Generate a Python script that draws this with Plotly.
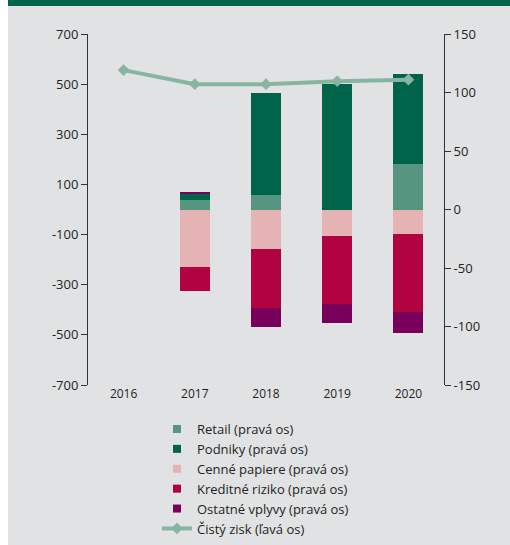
import plotly.graph_objects as go

# Categories (years)
years = ["2016", "2017", "2018", "2019", "2020"]

# Stacked components, right axis
retail = [None, 8, 12.5, 0, 39]
podniky = [None, 5.5, 87.5, 107, 76.5]
cenne_papiere = [None, -49, -33.5, -22.5, -21]
kreditne_riziko = [None, -20.5, -50.5, -58, -66.5]
ostatne_vplyvy = [None, 1.5, -16.5, -16.5, -18]

# Net profit, left axis
cisty_zisk = [556, 500, 500, 512, 518]

# Axis ticks (labels use a plain hyphen for negatives)
left_ticks = [-700, -500, -300, -100, 100, 300, 500, 700]
left_labels = ["-700", "-500", "-300", "-100", "100", "300", "500", "700"]
right_ticks = [-150, -100, -50, 0, 50, 100, 150]
right_labels = ["-150", "-100", "-50", "0", "50", "100", "150"]

FONT = "Open Sans"
TXT = "#231f20"
BG = "#e1e2e4"

series = [
    ("Retail (pravá os)", retail, "#569580"),
    ("Podniky (pravá os)", podniky, "#00644a"),
    ("Cenné papiere (pravá os)", cenne_papiere, "#e5b3b3"),
    ("Kreditné riziko (pravá os)", kreditne_riziko, "#b00340"),
    ("Ostatné vplyvy (pravá os)", ostatne_vplyvy, "#78005a"),
]

fig = go.Figure()

for name, vals, col in series:
    fig.add_trace(go.Bar(
        x=years, y=vals, name=name, marker=dict(color=col, line=dict(width=0)),
        width=0.42, yaxis="y", showlegend=False, hoverinfo="x+y+name",
    ))

# legend swatches (small squares)
for i, (name, vals, col) in enumerate(series):
    fig.add_trace(go.Scatter(
        x=[None], y=[None], mode="markers", name=name, yaxis="y",
        legendgroup=f"g{i}",
        marker=dict(symbol="square", size=8, color=col),
    ))

fig.add_trace(go.Scatter(
    x=years, y=cisty_zisk, name="Čistý zisk (ľavá os)", yaxis="y2",
    mode="lines+markers", legendgroup="zisk",
    line=dict(color="#87b5a2", width=4),
    marker=dict(symbol="diamond", size=9, color="#87b5a2"),
))

fig.update_layout(
    width=510, height=545,
    margin=dict(l=88, r=66, t=34, b=160, pad=0, autoexpand=False),
    paper_bgcolor=BG, plot_bgcolor=BG,
    barmode="relative", bargap=0,
    font=dict(family=FONT, color=TXT, size=13),
    xaxis=dict(
        type="category", range=[-0.5, 4.5], showline=False, ticks="",
        showgrid=False, zeroline=False, tickfont=dict(size=12, color=TXT),
        anchor="y",
    ),
    xaxis2=dict(
        overlaying="x", anchor="free", position=0.5, side="bottom",
        range=[-0.5, 4.5], tickvals=[0.5, 1.5, 2.5, 3.5],
        showticklabels=False, ticks="outside", ticklen=6, tickwidth=1.5,
        tickcolor="#333333", showline=True, linecolor="#6b6b6b", linewidth=1.5,
        showgrid=False, zeroline=False,
    ),
    yaxis=dict(
        side="right", range=[-150, 150], tickvals=right_ticks,
        ticktext=right_labels,
        ticks="outside", ticklen=6, tickwidth=1, tickcolor="#333333",
        showline=True, linecolor="#333333", linewidth=1,
        showgrid=False, zeroline=False, tickfont=dict(size=13, color=TXT),
        anchor="x",
    ),
    yaxis2=dict(
        side="left", overlaying="y", range=[-700, 700], tickvals=left_ticks,
        ticktext=left_labels,
        ticks="outside", ticklen=6, tickwidth=1, tickcolor="#333333",
        showline=True, linecolor="#333333", linewidth=1,
        showgrid=False, zeroline=False, tickfont=dict(size=13, color=TXT),
        anchor="x",
    ),
    legend=dict(
        x=(157 - 88) / 356, y=(385 - 414) / 351, xanchor="left", yanchor="top",
        traceorder="normal", bgcolor="rgba(0,0,0,0)", tracegroupgap=3,
        font=dict(family=FONT, size=13, color=TXT),
    ),
    shapes=[
        # white strip along the left edge
        dict(type="rect", xref="paper", yref="paper", xsizemode="pixel",
             ysizemode="pixel", xanchor=0, yanchor=0, x0=-90, x1=-80,
             y0=-170, y1=520, fillcolor="white", line=dict(width=0), layer="above"),
        # header band
        dict(type="rect", xref="paper", yref="paper", xsizemode="pixel",
             ysizemode="pixel", xanchor=0, yanchor=1, x0=-80, x1=430,
             y0=28, y1=40, fillcolor="#00644a", line=dict(width=0), layer="above"),
    ],
)

fig.write_html("out.html")
